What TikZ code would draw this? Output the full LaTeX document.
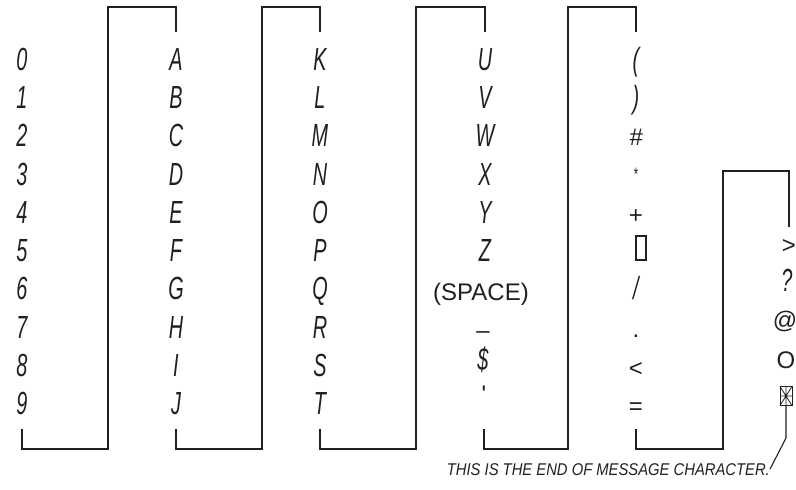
\documentclass[tikz,border=0pt]{standalone}
\usepackage{fontspec}
\setmainfont{Liberation Sans}
\newfontfamily\segfont[FakeStretch=0.62]{Liberation Sans}
\newfontfamily\notefont[FakeStretch=0.87]{Liberation Sans}
\definecolor{ink}{RGB}{35,31,32}
\tikzset{
  seg/.style={font=\segfont\itshape\fontsize{32}{32}\selectfont, text height=24pt, text depth=0pt, inner sep=0pt},
  sym/.style={font=\fontsize{24}{24}\selectfont, text height=24pt, text depth=0pt, inner sep=0pt},
  link/.style={line width=2.2pt},
  pointer/.style={line width=1.1pt},
}

\begin{document}
\begin{tikzpicture}[x=1pt,y=-1pt,color=ink]
\useasboundingbox (0,0) rectangle (796,490);
% digits
\node[seg] (n0) at (22,58) {0};
\node[seg] (n1) at (22,96) {1};
\node[seg] (n2) at (22,134) {2};
\node[seg] (n3) at (22,173) {3};
\node[seg] (n4) at (22,211) {4};
\node[seg] (n5) at (22,249) {5};
\node[seg] (n6) at (22,287) {6};
\node[seg] (n7) at (22,326) {7};
\node[seg] (n8) at (22,364) {8};
\node[seg] (n9) at (22,402) {9};
% A to J
\node[seg] (A) at (176,58) {A};
\node[seg] (B) at (176,96) {B};
\node[seg] (C) at (176,134) {C};
\node[seg] (D) at (176,173) {D};
\node[seg] (E) at (176,211) {E};
\node[seg] (F) at (176,249) {F};
\node[seg] (G) at (176,287) {G};
\node[seg] (H) at (176,326) {H};
\node[seg] (I) at (176,364) {I};
\node[seg] (J) at (176,402) {J};
% K to T
\node[seg] (K) at (320,58) {K};
\node[seg] (L) at (320,96) {L};
\node[seg] (M) at (320,134) {M};
\node[seg] (N) at (320,173) {N};
\node[seg] (O) at (320,211) {O};
\node[seg] (P) at (320,249) {P};
\node[seg] (Q) at (320,287) {Q};
\node[seg] (R) at (320,326) {R};
\node[seg] (S) at (320,364) {S};
\node[seg] (T) at (320,402) {T};
% U to Z and the rest
\node[seg] (U) at (485,58) {U};
\node[seg] (V) at (485,96) {V};
\node[seg] (W) at (485,134) {W};
\node[seg] (X) at (485,173) {X};
\node[seg] (Y) at (485,211) {Y};
\node[seg] (Z) at (485,249) {Z};
\node[sym] (space) at (481,288) {(SPACE)};
\node[sym] (bar) at (483,326) {–};
\node[seg] (dollar) at (483,358) {\$};
\node[sym] (quote) at (484,390) {\textquotesingle};
% punctuation
\node[seg] (lpar) at (636,58) {(};
\node[seg] (rpar) at (636,96) {)};
\node[sym,font=\itshape\fontsize{24}{24}\selectfont] (hash) at (636,133) {\#};
\node[font=\segfont\fontsize{18}{18}\selectfont,inner sep=0pt] (star) at (636,174) {*};
\node[sym] (plus) at (636,211) {+};
\node[draw,line width=1.6pt,minimum width=10pt,minimum height=24pt,inner sep=0pt] (box) at (641,248) {};
\node[seg] (slash) at (636,287) {/};
\node[sym] (dot) at (636,325) {.};
\node[sym] (lt) at (636,364) {<};
\node[sym] (eq) at (636,402) {=};
% last column
\node[sym] (gt) at (789,241) {>};
\node[seg] (quest) at (787,279) {?};
\node[sym] (at) at (785,316) {@};
\node[sym] (oh) at (786,356) {O};
\node[draw,line width=1pt,minimum width=12pt,minimum height=19pt,inner sep=0pt,
  path picture={\draw[line width=0.8pt]
    (path picture bounding box.north west) -- (path picture bounding box.south east)
    (path picture bounding box.north east) -- (path picture bounding box.south west)
    (path picture bounding box.north) -- (path picture bounding box.south)
    (path picture bounding box.west) -- (path picture bounding box.east);}] (eom) at (786,396) {};
\node[font=\notefont\itshape\fontsize{17}{17}\selectfont,inner sep=0pt,anchor=base east] (note) at (770,475) {THIS IS THE END OF MESSAGE CHARACTER.};
% brackets
\draw[link] (n9 |- 0,429) -- (n9 |- 0,449) -| (108,7) -| (A |- 0,32);
\draw[link] (J |- 0,429) -- (J |- 0,449) -| (262,7) -| (K |- 0,32);
\draw[link] (T |- 0,429) -- (T |- 0,449) -| (416,7) -| (U |- 0,32);
\draw[link] (quote |- 0,429) -- (quote |- 0,449) -| (568,7) -| (lpar |- 0,32);
\draw[link] (eq |- 0,429) -- (eq |- 0,449) -| (723,171) -| (gt |- 0,227);
\draw[pointer] (eom.south) -- (eom.south |- 0,438) -- (note.east);
\end{tikzpicture}
\end{document}
